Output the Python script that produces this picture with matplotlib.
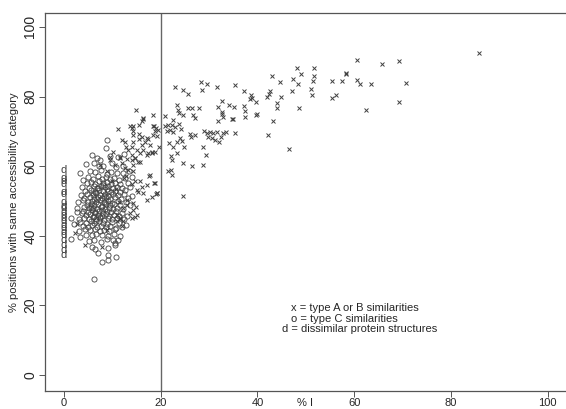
import matplotlib.pyplot as plt
import numpy as np

plt.rcParams['font.family'] = ['Liberation Sans', 'DejaVu Sans']

# type A or B similarities (x markers)
ab_x = [85.8, 60.5, 65.7, 69.3, 51.7, 51.6, 51.4, 58.3, 58.3, 55.4, 57.4, 60.5, 61.2, 63.4,
        70.8, 51.1, 51.2, 55.4, 56.3, 69.3, 62.5,
        48.1, 49.0, 43.1, 47.3, 44.6, 48.3, 22.9, 28.3, 29.6, 31.7, 35.3, 24.7, 25.7, 28.6,
        37.2, 42.6, 42.4, 42.0, 47.2, 38.7, 38.5, 38.9, 44.8, 39.7, 32.7, 34.1, 35.2, 37.2,
        31.8, 44.0, 44.0, 48.5, 23.3, 23.6, 25.6, 26.4, 28.0, 23.8, 24.7, 26.7, 27.1, 32.6,
        32.7, 32.9, 31.9, 34.7, 35.0, 37.4, 37.4, 40.0, 39.7, 43.2, 22.6, 22.3, 23.0, 23.8,
        24.2, 21.9, 22.6, 29.0, 29.5, 30.1, 30.8, 31.6, 32.9, 33.5, 35.4, 26.1, 27.1, 26.2,
        29.8, 30.7, 31.2, 32.1, 32.5, 24.0, 24.3, 23.3, 42.1, 28.7, 29.4, 23.3, 22.1, 22.3,
        24.7, 26.5, 28.8, 22.1, 22.3, 46.6, 24.9,
        24.7, 18.8, 19.0, 19.3, 21.6,
        20.9, 20.9, 21.2, 21.6, 21.8, 22.5,
        14.9, 18.3, 16.3, 16.1, 11.1, 14.3, 14.2, 14.3, 13.7, 14.0, 18.3, 18.7, 19.0, 19.5,
        18.8, 18.5, 19.2, 15.6, 16.1, 15.6, 17.1, 17.4, 16.8, 17.8, 16.1, 14.3, 14.0, 13.3,
        11.9, 12.6, 15.0, 15.7, 16.4, 17.4, 18.1, 18.8, 19.7, 11.6, 13.0, 14.0, 14.7, 15.4,
        14.2, 12.6, 13.3, 14.3, 17.6, 16.1, 15.4, 17.1, 14.3, 14.9, 15.0, 14.0, 11.6, 10.9,
        12.3, 15.6, 16.4,
        2.3, 2.75, 4.3, 7.8, 8.8, 8.8,
        12.4, 14.0, 14.7, 15.7, 15.0, 17.1, 16.4, 17.8, 18.6, 19.2, 18.1, 14.3, 14.7, 13.0,
        10.9, 11.9, 9.5, 10.5, 11.6, 7.4,
        12.8, 14.0, 11.9, 14.7, 15.7, 17.1, 18.1, 9.5, 10.2,
        13.1, 12.2, 10.8, 11.5, 13.6, 9.9, 12.9, 11.3]
ab_y = [92.6, 90.6, 89.4, 90.2, 88.1, 85.8, 84.6, 86.7, 86.4, 84.4, 84.4, 84.7, 83.5, 83.6,
        83.8, 82.1, 80.5, 79.6, 80.5, 78.4, 76.1,
        88.1, 86.5, 86.0, 85.1, 84.2, 83.7, 82.8, 84.1, 83.6, 82.8, 83.2, 81.9, 80.7, 81.9,
        81.6, 81.7, 80.7, 79.8, 81.5, 80.5, 79.2, 79.7, 79.8, 78.4, 78.8, 77.7, 76.9, 77.4,
        77.1, 78.0, 76.8, 76.6, 77.6, 76.1, 76.6, 76.6, 76.6, 75.2, 74.7, 74.7, 73.7, 75.7,
        74.9, 74.0, 73.0, 73.6, 73.6, 75.9, 74.0, 74.9, 74.6, 73.0, 73.3, 71.8, 71.3, 72.0,
        70.7, 70.4, 69.9, 70.2, 69.4, 69.9, 69.4, 69.8, 69.6, 69.9, 69.6, 69.3, 69.0, 68.5,
        68.5, 68.2, 67.5, 67.0, 68.3, 68.0, 67.3, 67.0, 69.0, 65.4, 63.2, 63.8, 62.8, 61.8,
        61.0, 60.1, 60.2, 58.9, 57.5, 64.9, 65.4,
        51.3, 55.1, 52.0, 52.4, 58.7,
        74.5, 71.4, 70.0, 71.8, 66.6, 65.6,
        76.1, 74.7, 73.5, 73.1, 70.6, 71.5, 70.0, 69.0, 71.4, 70.9, 71.4, 71.6, 71.1, 70.4,
        70.0, 69.0, 68.7, 69.1, 68.5, 67.7, 68.0, 67.7, 66.9, 66.1, 66.1, 67.0, 65.6, 64.7,
        67.5, 67.0, 64.7, 63.9, 64.7, 63.7, 63.9, 64.2, 65.6, 62.7, 62.0, 61.8, 62.2, 61.3,
        60.3, 59.4, 58.9, 58.7, 57.2, 53.9, 52.7, 50.3, 49.3, 48.3, 46.0, 45.0, 45.0, 44.1,
        44.1, 71.8, 73.7,
        40.7, 43.4, 37.4, 36.9, 41.7, 58.7,
        56.5, 55.0, 55.7, 55.7, 53.2, 54.6, 52.2, 57.5, 55.1, 52.2, 51.2, 47.4, 45.5, 48.9,
        46.0, 42.8, 61.8, 60.3, 62.2, 60.3,
        65.6, 63.2, 60.8, 62.2, 61.3, 63.2, 64.2, 62.7, 64.2,
        50.4, 47.9, 53.4, 44.9, 46.6, 55.8, 57.1, 49.6]

# type C similarities (o markers)
c_x = [8.8, 8.7,
       5.7, 6.8, 7.4, 9.6, 11.2, 12.5,
       8.1, 4.6, 6.2, 9.9, 10.8, 12.1, 7.3,
       3.3, 5.4, 6.5, 7.7, 8.9, 9.8, 11.0, 12.3, 13.5,
       4.0, 5.0, 6.0, 7.0, 7.8, 8.6, 9.5, 10.4, 11.3, 12.6, 14.1,
       4.7, 5.6, 6.4, 7.2, 8.0, 8.9, 9.7, 10.5, 11.6, 13.2,
       3.8, 5.2, 6.1, 6.9, 7.6, 8.4, 9.2, 10.1, 11.0, 12.0, 13.7,
       4.4, 5.5, 6.4, 7.3, 8.1, 8.9, 9.7, 10.6, 11.5, 12.7,
       3.5, 4.8, 5.9, 6.7, 7.5, 8.4, 9.2, 10.1, 11.1, 12.4, 14.0,
       4.2, 5.3, 6.2, 7.0, 7.9, 8.7, 9.6, 10.5, 11.8, 13.3,
       4.0, 2.8, 5.0, 5.8, 6.6, 7.4, 8.2, 9.1, 10.0, 11.2, 12.8,
       4.7, 5.5, 6.3, 7.1, 7.9, 8.7, 9.5, 10.4, 11.6, 13.6,
       2.6, 5.2, 4.1, 6.0, 6.8, 7.6, 8.4, 9.3, 10.2, 11.0, 12.2,
       2.75, 3.9, 5.0, 5.8, 6.5, 7.3, 8.1, 8.9, 9.8, 10.7, 12.0,
       3.7, 4.6, 5.4, 6.2, 7.0, 7.8, 8.6, 9.4, 10.3, 11.4, 13.1,
       1.5, 3.0, 4.2, 5.1, 5.9, 6.7, 7.5, 8.3, 9.1, 10.0, 11.0, 12.4,
       2.1, 3.4, 4.5, 5.5, 6.3, 7.2, 8.0, 8.9, 9.9, 11.3, 12.8,
       3.9, 4.9, 5.8, 6.8, 7.7, 8.6, 9.6, 10.8, 12.0,
       3.2, 4.4, 5.4, 6.4, 7.4, 8.3, 9.4, 10.5,
       3.3, 1.4, 4.6, 5.7, 6.7, 7.9, 9.2, 10.4, 11.6,
       5.1, 6.3, 7.6, 10.5, 11.2, 10.1, 10.5, 8.8,
       5.7, 7.1, 6.4, 9.0,
       7.9, 9.2, 9.2, 10.8,
       6.1,
       6.9, 7.8, 5.9, 8.5, 7.1, 6.4, 8.2, 5.6, 7.5, 9.0, 6.7, 8.0]
c_y = [67.5, 65.3,
       63.2, 62.2, 61.8, 63.0, 62.5, 63.5,
       59.9, 60.5, 60.8, 60.9, 59.7, 60.1, 60.0,
       57.9, 58.6, 58.2, 58.9, 57.8, 58.4, 58.1, 57.9, 58.5,
       56.0, 56.8, 56.3, 57.1, 56.4, 56.9, 56.2, 56.7, 56.1, 56.6, 56.9,
       55.1, 55.4, 54.9, 55.6, 55.2, 55.5, 54.8, 55.3, 55.0, 55.2,
       54.1, 53.8, 54.3, 53.7, 54.2, 53.9, 54.4, 53.6, 54.1, 53.8, 54.0,
       52.9, 53.1, 52.6, 53.2, 52.8, 53.3, 52.7, 53.0, 52.6, 53.1,
       51.7, 52.1, 51.6, 52.2, 51.8, 52.0, 51.5, 52.1, 51.7, 51.9, 51.4,
       50.8, 51.1, 50.6, 51.2, 50.9, 51.0, 50.5, 51.1, 50.7, 50.9,
       50.3, 49.8, 49.7, 50.1, 49.6, 50.2, 49.8, 50.0, 49.5, 49.9, 49.6,
       48.9, 49.2, 48.7, 49.1, 48.6, 49.0, 48.8, 49.2, 48.7, 48.9,
       47.9, 47.9, 48.2, 48.1, 47.7, 48.2, 47.8, 48.1, 47.6, 48.0, 47.7,
       46.9, 47.1, 46.8, 47.3, 46.7, 47.0, 46.6, 47.2, 46.8, 47.1, 46.6,
       46.4, 45.9, 46.2, 45.7, 46.1, 45.8, 46.3, 45.6, 46.0, 45.7, 45.7,
       45.2, 44.9, 45.1, 44.7, 45.3, 44.8, 45.2, 44.6, 45.0, 44.7, 45.1, 44.8,
       43.4, 44.0, 43.7, 44.2, 43.6, 44.1, 43.8, 43.5, 44.0, 43.6, 43.1,
       42.8, 42.5, 43.0, 42.6, 42.9, 42.4, 42.8, 42.3, 42.6,
       41.4, 41.8, 41.6, 41.9, 41.3, 41.7, 41.4, 41.9,
       39.7, 39.0, 40.3, 40.1, 40.6, 40.2, 39.9, 40.4, 40.0,
       38.5, 38.9, 38.3, 37.8, 38.8, 38.8, 37.4, 39.1,
       36.9, 35.0, 36.2, 36.5,
       32.6, 34.5, 33.0, 33.8,
       27.5,
       50.5, 47.3, 52.4, 49.4, 53.6, 46.4, 51.4, 48.4, 45.4, 52.9, 44.2, 54.7]

# dissimilar protein structures (d), all at x = 0
d_y = [58.9, 56.5, 55.6, 54.8, 52.7, 52.0, 49.8, 48.6, 47.9, 46.9, 46.0, 45.2, 44.1,
       43.1, 42.1, 41.2, 40.3, 38.8, 37.4, 35.9, 34.5]

yticks = [0, 20, 40, 60, 80, 100]
xticks = [0, 20, 40, 60, 80, 100]

ink = '#404040'
txt = '#262626'

fig = plt.figure(figsize=(5.66, 4.09), dpi=100)
ax = fig.add_axes([45 / 566, 18 / 409, 521 / 566, 378 / 409])

ax.plot(ab_x, ab_y, 'x', color=ink, markersize=3.5, markeredgewidth=0.7)
ax.plot(c_x, c_y, 'o', color=ink, markerfacecolor='none', markersize=3.7,
        markeredgewidth=0.6)
for yv in d_y:
    ax.text(0, yv, 'd', ha='center', va='center', fontsize=8, color=ink)

ax.axvline(20, color='#666666', lw=1.0)

ax.set_xlim(-3.93, 103.8)
ax.set_ylim(-4.6, 104.0)

ax.set_xticks(xticks)
ax.set_xticklabels([str(t) for t in xticks], fontsize=8)
ax.set_yticks(yticks)
ax.set_yticklabels([str(t) for t in yticks], fontsize=10, rotation=90, va='center')
ax.tick_params(length=4, width=0.7, color='#555555', pad=1.5, labelcolor=txt)
ax.tick_params(axis='x', pad=1.0)

for s in ['left', 'top', 'bottom']:
    ax.spines[s].set_color('#555555')
    ax.spines[s].set_linewidth(0.9)
ax.spines['right'].set_visible(False)

ax.set_ylabel('% positions with same accessibility category', fontsize=8, color=txt,
              labelpad=3)
ax.text(0.499, -0.032, '% I', transform=ax.transAxes, ha='center', va='center',
        fontsize=8, color=txt)

ax.text(47.0, 19.2, 'x = type A or B similarities', fontsize=8, color=txt,
        va='center', ha='left')
ax.text(47.0, 16.1, 'o = type C similarities', fontsize=8, color=txt,
        va='center', ha='left')
ax.text(45.1, 13.1, 'd = dissimilar protein structures', fontsize=8, color=txt,
        va='center', ha='left')

fig.savefig('out.png', dpi=100)
